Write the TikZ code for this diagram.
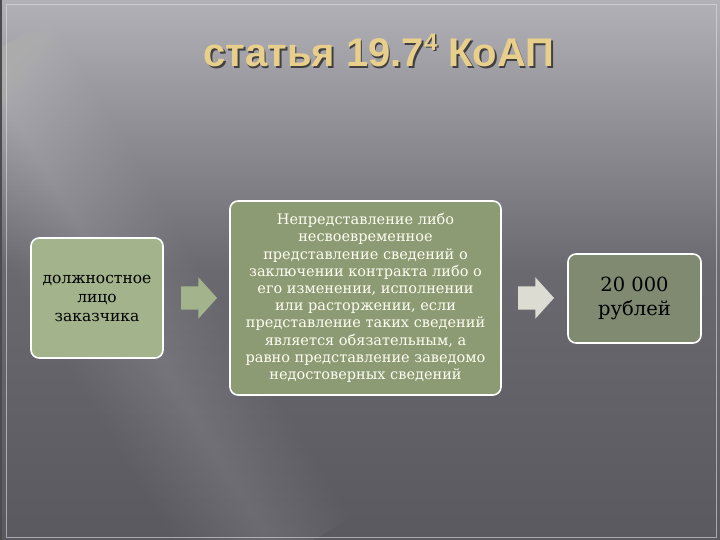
\documentclass[tikz,border=0pt]{standalone}
\usepackage{fontspec}
\setmainfont{DejaVu Serif}
\newfontfamily\titlefont{Liberation Sans}
\usetikzlibrary{shapes.arrows}
\usetikzlibrary{positioning}

\definecolor{bgdark}{HTML}{5A5960}
\definecolor{bgmid}{HTML}{6A6970}
\definecolor{bglight}{HTML}{B2B1B7}
\definecolor{gold}{HTML}{E8D08C}
\definecolor{sagelight}{HTML}{A3B38B}
\definecolor{sagemid}{HTML}{8C9B74}
\definecolor{sagegrey}{HTML}{7F8A71}
\definecolor{arrowgrey}{HTML}{DCDCD2}

\tikzset{
  sagebox/.style={draw=white, line width=1.6pt, rounded corners=8pt, align=center, inner sep=0pt},
  blockarrow/.style={single arrow, draw=none, minimum height=36pt, minimum width=41pt,
    single arrow head extend=9pt, single arrow tip angle=96, inner sep=11.5pt}
}

\begin{document}
\begin{tikzpicture}[x=1pt, y=-1pt]
        \useasboundingbox (0,0) rectangle (720,540);
        \shade[shading=axis, shading angle=135, top color=bglight, bottom color=bgdark, middle color=bgmid] (0,0) rectangle (720,540);
        \begin{scope}
            \clip (0,0) rectangle (720,540);
            \foreach \w in {10,20,...,160}
                \draw[white, opacity=0.012, line width=\w pt] (-20,60) -- (280,560);
        \end{scope}
        \draw[black!70, line width=1.5pt] (0.75,0) -- (0.75,540);
        \draw[white!75!gray, opacity=0.6, line width=0.6pt] (6,4) -- (716,4) -- (716,537) -- (6,537) -- cycle;

        \node[anchor=base, text=black!75, font=\titlefont\bfseries\fontsize{40}{40}\selectfont] at (380.5,68.5)
            {статья 19.7\raisebox{0.42em}{\fontsize{24}{24}\selectfont 4} КоАП};
        \node[anchor=base, text=gold, font=\titlefont\bfseries\fontsize{40}{40}\selectfont] (title) at (379,67)
            {статья 19.7\raisebox{0.42em}{\fontsize{24}{24}\selectfont 4} КоАП};

        \node[sagebox, fill=sagelight, minimum width=132pt, minimum height=120pt,
            font=\fontsize{15.5}{19}\selectfont] (person) at (97,298)
            {должностное\\лицо\\заказчика};
        \node[sagebox, fill=sagemid, text=white!95!yellow, minimum width=271pt, minimum height=194pt,
            font=\fontsize{14.5}{17.2}\selectfont] (offence) at (365.5,298)
            {Непредставление либо\\несвоевременное\\представление сведений о\\заключении контракта либо о\\его изменении, исполнении\\или расторжении, если\\представление таких сведений\\является обязательным, а\\равно представление заведомо\\недостоверных сведений};
        \node[sagebox, fill=sagegrey, minimum width=133pt, minimum height=89pt,
            font=\fontsize{19.5}{24}\selectfont] (fine) at (634.5,298.5)
            {20 000\\рублей};

        \node[blockarrow, fill=sagelight, right=17pt of person] (arrowA) {};
        \node[blockarrow, fill=arrowgrey, right=16pt of offence] (arrowB) {};
    \end{tikzpicture}
\end{document}
